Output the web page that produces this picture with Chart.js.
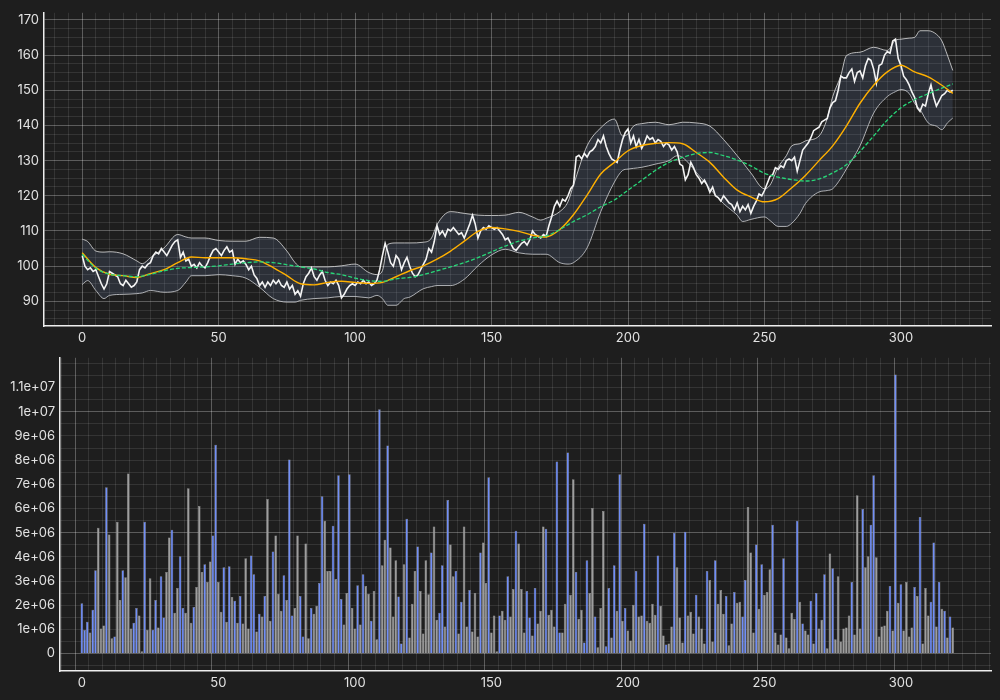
<!DOCTYPE html>
<html>
<head>
<meta charset="utf-8">
<script src="https://cdn.jsdelivr.net/npm/chart.js@4.4.1/dist/chart.umd.min.js"></script>
<style>
  html, body { margin: 0; padding: 0; background: #1e1e1e; }
  #wrap { position: relative; width: 1000px; height: 700px; }
  canvas { position: absolute; left: 0; }
  #priceChart { top: 0; }
  #volumeChart { top: 345px; }
</style>
</head>
<body>
<div id="wrap">
  <canvas id="priceChart" width="1000" height="345"></canvas>
  <canvas id="volumeChart" width="1000" height="355"></canvas>
</div>
<script>
// closing price per day (index 0..319)
var price = [
  103, 100, 99, 99.5, 98.5, 99, 97, 95, 93.5, 95,
  98.5, 98, 97.5, 97, 95, 94.5, 96, 95, 94, 94.5,
  95.5, 99, 100, 99.5, 100.5, 101, 103, 104, 103.5, 105,
  104, 103, 104.5, 106, 107, 107.5, 102.5, 104, 101.5, 102,
  100, 100.5, 99.5, 101, 100, 99.5, 101, 103, 104.5, 105,
  104, 103, 104.5, 105.5, 104, 104.5, 100.5, 102, 101, 101.5,
  100.5, 99, 100, 97.5, 96.5, 94.5, 95.5, 94, 95.5, 94.5,
  96, 95, 96, 94.5, 94, 95.5, 93.5, 94.5, 92, 93,
  91.5, 95, 97, 98, 99.5, 97, 96, 97.5, 98.5, 96,
  94.5, 95.5, 95, 96, 94.5, 91, 92, 93.5, 94.5, 95,
  94.5, 95.5, 95, 96, 95, 95.5, 94.5, 95, 96, 99,
  103, 106.5, 104, 101, 100, 103, 102, 99, 101, 102.5,
  100, 98, 97, 97.5, 99, 100.5, 102, 105, 104, 107,
  111.5, 109, 110, 108.5, 110.5, 110, 111, 110, 109, 109.5,
  108, 110, 112, 114.5, 112, 108, 110, 111, 110.5, 111.5,
  111, 110.5, 111, 110, 109, 107.5, 108, 106.5, 105, 104.5,
  105.5, 106.5, 107, 106, 107.5, 110, 109, 108.5, 108, 109,
  108.5, 111.5, 114, 117, 118.5, 117, 119, 118.5, 120, 122,
  123, 131, 131.5, 130.5, 132, 131, 132.5, 133, 134, 136,
  135, 137, 134, 132, 130.5, 130, 129.5, 133, 136, 138,
  139, 135, 137, 134, 136, 133.5, 135, 137, 136, 136.5,
  135, 136, 135.5, 134, 135, 134.5, 133, 134, 132.5, 129,
  128.5, 124.5, 126, 129.5, 128, 126, 125, 123.5, 124.5, 123,
  121, 122.5, 120, 119.5, 118.5, 120, 119, 118, 117.5, 116,
  118, 115.5, 117, 116, 117.5, 115, 117, 118.5, 120.5, 120,
  121.5, 123.5, 125.5, 126, 128, 127.5, 128.5, 128, 130, 130.5,
  130, 131, 127, 130, 133, 134, 135, 136.5, 138.5, 139,
  139.5, 141, 141.5, 142, 145, 146.5, 147, 150, 154, 153.5,
  153.5, 155, 156, 152.5, 155, 155.5, 153.5, 157, 159, 158.5,
  156, 152, 157, 157.5, 160, 161, 160.5, 164, 164.5, 159,
  157, 154, 153, 151.5, 149.5, 148, 145, 144, 146, 145.5,
  149, 151.5, 148, 145.5, 147, 148.5, 149, 150, 149.5, 150
];

// bollinger band readings
var bandX = [0, 2, 5, 8, 10, 15, 20, 22, 25, 30, 35, 38, 40, 45, 50, 55, 60, 65, 70, 75, 78,
  80, 85, 90, 95, 100, 105, 108, 110, 112, 115, 118, 120, 125, 128, 130, 135, 140, 145, 150,
  155, 160, 165, 168, 170, 175, 178, 180, 185, 190, 195, 198, 200, 202, 205, 210, 215, 218,
  220, 225, 230, 235, 240, 242, 245, 250, 252, 255, 258, 260, 263, 265, 270, 273, 275, 278,
  280, 285, 290, 295, 298, 300, 303, 305, 307, 310, 313, 315, 317, 319];
var upperBand = [107.7, 107, 104.3, 104, 104.1, 103.5, 101.5, 100.7, 102.4, 105.2, 109, 108.3, 108, 108, 107.3, 107.1, 107.1, 108.2, 108, 104.3, 101,
  99.8, 99.8, 99.8, 100.1, 100.6, 98.2, 97.6, 98.7, 106.2, 106.6, 106.6, 106.6, 106.8, 108, 111.8, 115.5, 115, 114.5, 114.4,
  114.5, 115.3, 114, 113.1, 113.6, 115.5, 118.3, 123, 134.2, 139.3, 141.8, 137, 137.6, 139.8, 140.5, 140.9, 140.2, 140.6,
  140.9, 140.7, 139.8, 136, 131.4, 129.5, 126.5, 122, 123, 128.1, 131.4, 134.2, 134.8, 135.6, 137, 142, 148.2, 154.2,
  159.8, 160.8, 162.2, 161.3, 164.2, 164.5, 164.8, 165, 166.9, 166.9, 165.9, 164, 160, 155.6];
var lowerBand = [94.8, 95.9, 93.1, 90.8, 91.7, 92, 92.2, 92.4, 93.1, 92.6, 93.1, 95.5, 97.3, 97.3, 97.6, 97.3, 96.6, 94, 90.8, 89.8, 89.8,
  90.3, 90.8, 91, 91.4, 91.4, 91, 91.7, 90.8, 88.9, 88.9, 90.8, 91.2, 93.6, 94.2, 94.5, 94.5, 96.3, 100.1, 103.2,
  104.8, 103.8, 103.4, 103.4, 103.4, 101, 100.6, 101, 105.2, 115.5, 123.9, 127.2, 127.6, 127.8, 128.1, 129, 130, 131.4,
  130.9, 126.7, 122, 117.8, 114.5, 112.7, 113.3, 114, 113, 111.3, 111.3, 112.2, 115, 117.8, 121.1, 121.5, 122, 125,
  127.6, 134.2, 143.5, 148.2, 149.6, 150.2, 149.1, 146.3, 144.5, 140.7, 139.8, 138.8, 140.7, 142.1];

// moving averages
var maX = [0, 5, 10, 15, 20, 25, 30, 35, 40, 45, 50, 55, 60, 65, 70, 75, 80, 85, 90, 95, 100,
  105, 110, 115, 120, 125, 130, 135, 140, 145, 150, 155, 160, 165, 170, 175, 180, 185, 190, 195, 200,
  205, 210, 215, 220, 225, 230, 235, 240, 245, 250, 255, 260, 265, 270, 275, 280, 285, 290, 295, 300,
  305, 310, 315, 319];
var maFast = [103.8, 99.6, 97.7, 97.3, 96.8, 97.9, 99, 101, 102.6, 102.4, 102.4, 102.4, 102.1, 101.5, 99.6, 97.3, 95, 94.7, 95.4, 95.7, 95.4,
  95.1, 95.4, 97, 98.7, 100.1, 102, 104.3, 107.1, 109.9, 111, 110.6, 109.9, 108.8, 108.3, 110.4, 114.6, 120.2, 126.2, 129.5, 132.8,
  134.3, 134.9, 135.1, 134.8, 132.3, 129.5, 125.3, 121.6, 119.7, 118.3, 119.2, 122.3, 125.8, 130, 134.2, 139.8, 146.3, 151.4, 155.2, 157.1,
  155.2, 153.8, 151.4, 149.1];
var maSlow = [103.4, 99.4, 97.7, 97.3, 97, 97.7, 98.7, 99.4, 99.6, 99.8, 100.1, 100.6, 101, 101.2, 101, 100.4, 99.8, 99.2, 98.2, 97.6, 96.6,
  95.9, 95.7, 96.4, 96.8, 97.6, 98.7, 99.8, 101, 102.4, 104.1, 105.7, 107.1, 108, 108.6, 110.4, 112.7, 114.6, 116.9, 118.8, 121.6,
  124.4, 127.2, 129.5, 130.9, 132, 132.3, 131.4, 130.2, 128.5, 126.4, 125.3, 124.6, 124.2, 124.8, 126.5, 128.8, 132.6, 137, 141.5, 145,
  147.3, 149, 150.6, 151.8];

// volume in millions, and whether the day closed up (1) or down (0)
var volumeM = [
  2.08, 0.98, 1.32, 0.87, 1.81, 3.45, 5.20, 1.04, 1.16, 6.88,
  4.92, 0.63, 0.71, 5.45, 2.22, 3.45, 3.16, 7.45, 1.04, 1.28,
  1.89, 1.57, 0.10, 5.45, 0.99, 3.12, 0.99, 2.22, 1.08, 3.20,
  1.49, 3.37, 4.80, 5.12, 1.69, 2.71, 4.02, 1.89, 1.69, 6.84,
  1.28, 1.93, 2.75, 6.10, 3.37, 3.69, 2.96, 3.81, 4.88, 8.64,
  2.96, 1.73, 3.57, 1.32, 3.61, 2.34, 2.18, 1.28, 2.38, 1.24,
  3.94, 1.04, 4.06, 3.28, 0.91, 1.65, 1.53, 2.38, 6.39, 1.36,
  4.22, 4.88, 2.47, 1.77, 3.24, 2.22, 8.02, 1.57, 1.89, 4.88,
  2.38, 0.71, 4.55, 0.63, 1.89, 1.65, 1.98, 2.92, 6.51, 5.49,
  3.41, 3.41, 5.29, 3.08, 7.37, 2.26, 1.20, 2.51, 7.41, 1.89,
  1.04, 2.83, 1.20, 3.28, 2.79, 2.47, 1.36, 2.59, 0.59, 10.10,
  3.65, 4.71, 8.60, 4.39, 1.53, 3.86, 2.36, 0.42, 3.69, 5.57,
  0.67, 2.06, 3.41, 4.43, 2.59, 0.83, 3.86, 2.45, 4.18, 5.25,
  1.40, 1.69, 3.65, 1.12, 6.35, 4.51, 3.20, 3.41, 0.83, 2.14,
  5.25, 1.12, 2.63, 0.91, 2.51, 0.71, 4.18, 4.59, 2.92, 7.29,
  0.87, 1.57, 0.10, 1.57, 1.77, 1.40, 3.20, 1.53, 2.67, 5.08,
  4.55, 2.67, 0.87, 2.59, 1.49, 0.75, 2.71, 1.24, 1.77, 5.25,
  5.16, 1.61, 1.81, 1.12, 7.94, 0.87, 0.87, 2.06, 8.31, 2.43,
  7.21, 3.37, 1.44, 1.81, 0.46, 3.86, 2.51, 6.02, 1.53, 0.26,
  1.89, 5.90, 0.30, 2.71, 0.67, 3.65, 1.77, 7.41, 1.36, 1.89,
  0.95, 0.54, 2.02, 3.41, 1.53, 1.57, 5.37, 1.36, 1.28, 2.06,
  1.61, 4.06, 1.98, 0.75, 0.38, 0.42, 1.12, 5.00, 3.57, 1.49,
  0.46, 5.04, 1.57, 1.73, 0.83, 2.43, 1.53, 1.04, 0.42, 3.41,
  3.04, 0.50, 3.86, 2.06, 2.63, 1.65, 2.38, 0.34, 1.24, 2.55,
  2.10, 2.14, 1.53, 3.04, 6.06, 4.18, 0.87, 4.51, 1.85, 3.69,
  2.43, 2.55, 3.49, 5.33, 0.87, 0.38, 0.79, 3.94, 0.67, 0.22,
  1.69, 1.44, 5.49, 2.14, 1.24, 0.95, 0.79, 2.18, 0.42, 2.51,
  1.04, 1.40, 3.28, 0.22, 4.14, 3.53, 0.59, 3.20, 0.50, 1.04,
  1.08, 1.57, 2.96, 0.79, 6.55, 1.04, 5.98, 3.57, 4.02, 5.33,
  7.37, 3.98, 0.71, 1.12, 1.16, 1.77, 2.79, 0.95, 11.54, 2.10,
  2.87, 0.95, 2.96, 0.71, 1.08, 2.75, 2.38, 5.65, 0.42, 2.71,
  1.57, 2.14, 4.59, 1.12, 2.96, 1.85, 1.77, 0.67, 1.53, 1.08
];
var volUp = [
  1,1,1,0,1,1,0,0,0,1, 0,0,1,0,0,1,0,0,0,1, 1,0,0,1,0,0,1,1,0,1, 1,0,0,1,0,0,1,1,0,0,
  0,1,0,0,0,1,0,0,1,1, 0,0,1,0,1,0,1,0,1,0, 0,0,1,1,0,1,0,1,0,0, 1,0,0,0,1,0,1,1,0,0,
  1,1,0,0,1,0,0,1,1,0, 0,0,1,0,1,1,0,0,1,0, 0,1,0,1,0,0,1,0,0,1, 0,0,1,0,0,0,1,1,0,1,
  0,0,0,1,0,0,0,0,1,0, 0,1,1,0,1,0,0,1,0,1, 0,0,1,0,0,0,1,0,0,1, 0,0,0,1,0,0,1,0,0,1,
  0,0,0,1,1,0,1,0,0,0, 1,0,0,0,1,1,0,0,1,0, 0,1,0,0,1,1,0,0,1,0, 0,0,1,1,0,1,0,1,0,1,
  0,0,0,1,0,0,1,0,0,0, 0,1,0,0,1,0,0,1,0,0, 0,1,0,0,0,1,0,0,0,1, 0,0,1,0,0,0,1,0,0,1,
  0,0,1,1,0,0,0,1,0,1, 0,0,0,1,0,0,0,1,0,0, 0,0,1,0,1,0,0,1,0,1, 0,0,1,0,0,1,0,0,0,0,
  0,0,1,0,0,0,1,0,0,1, 1,0,0,0,0,0,1,0,1,0, 1,0,0,0,0,1,0,1,0,0, 0,1,1,0,1,0,1,0,1,0
];

var xLabels = [0, 50, 100, 150, 200, 250, 300];
var priceLabels = [90, 100, 110, 120, 130, 140, 150, 160, 170];
var volumeLabels = [0, 1e6, 2e6, 3e6, 4e6, 5e6, 6e6, 7e6, 8e6, 9e6, 1e7, 1.1e7];

Chart.defaults.font.family = 'Inter';
Chart.defaults.font.size = 13;
Chart.defaults.color = '#e2e2e2';

var GRID_MAJOR = 'rgba(255,255,255,0.28)';
var GRID_MINOR = 'rgba(255,255,255,0.10)';

function steps(from, to, step) {
  var out = [];
  for (var v = from; v <= to + 1e-9; v += step) out.push(Math.round(v * 100) / 100);
  return out;
}
function setTicks(values) {
  return function (scale) { scale.ticks = values.map(function (v) { return { value: v }; }); };
}
function sci(v) {
  if (v === 0) return '0';
  var parts = v.toExponential().split('e');
  var e = parts[1];
  return parts[0] + 'e' + e[0] + e.slice(1).padStart(2, '0');
}
function xy(xs, ys) {
  return xs.map(function (x, i) { return { x: x, y: ys[i] }; });
}

var xGridTicks = steps(-10, 330, 5);

function xScale(min, height) {
  return {
    type: 'linear', min: min, max: 333, offset: false,
    afterBuildTicks: setTicks(xGridTicks),
    afterFit: function (s) { s.height = height; },
    grid: {
      drawTicks: false,
      color: function (c) { return c.tick && c.tick.value % 50 === 0 ? GRID_MAJOR : GRID_MINOR; }
    },
    border: { color: '#eeeeee', width: 1.5 },
    ticks: {
      autoSkip: false, maxRotation: 0, padding: 4,
      callback: function (v) { return xLabels.indexOf(v) >= 0 ? String(v) : ''; }
    }
  };
}

var days = price.map(function (_, i) { return i; });

new Chart(document.getElementById('priceChart'), {
  type: 'line',
  data: {
    datasets: [
      {
        label: 'MA slow', data: xy(maX, maSlow),
        borderColor: 'rgb(40,215,120)', borderWidth: 1.3, borderDash: [4, 2],
        pointRadius: 0, cubicInterpolationMode: 'monotone', fill: false
      },
      {
        label: 'MA fast', data: xy(maX, maFast),
        borderColor: 'rgb(255,176,0)', borderWidth: 1.4,
        pointRadius: 0, cubicInterpolationMode: 'monotone', fill: false
      },
      {
        label: 'Price', data: xy(days, price),
        borderColor: '#f4f4f4', borderWidth: 1.6,
        pointRadius: 0, tension: 0, fill: false
      },
      {
        label: 'Upper', data: xy(bandX, upperBand),
        borderColor: 'rgba(220,220,220,0.9)', borderWidth: 0.9,
        pointRadius: 0, cubicInterpolationMode: 'monotone',
        fill: '+1', backgroundColor: 'rgba(95,115,150,0.22)'
      },
      {
        label: 'Lower', data: xy(bandX, lowerBand),
        borderColor: 'rgba(220,220,220,0.9)', borderWidth: 0.9,
        pointRadius: 0, cubicInterpolationMode: 'monotone', fill: false
      }
    ]
  },
  options: {
    responsive: false,
    animation: false,
    layout: { padding: { top: 9, right: 9, left: 0, bottom: 0 } },
    plugins: { legend: { display: false }, tooltip: { enabled: false } },
    scales: {
      x: xScale(-14, 19),
      y: {
        min: 83, max: 172,
        afterBuildTicks: setTicks(steps(85, 170, 2.5)),
        afterFit: function (s) { s.width = 44; },
        grid: {
          drawTicks: false,
          color: function (c) { return c.tick && c.tick.value % 10 === 0 ? GRID_MAJOR : GRID_MINOR; }
        },
        border: { color: '#eeeeee', width: 1.5 },
        ticks: {
          autoSkip: false, padding: 5,
          callback: function (v) { return priceLabels.indexOf(v) >= 0 ? String(v) : ''; }
        }
      }
    }
  }
});

new Chart(document.getElementById('volumeChart'), {
  type: 'bar',
  data: {
    datasets: [{
      label: 'Volume',
      data: xy(days, volumeM.map(function (v) { return v * 1e6; })),
      backgroundColor: volUp.map(function (u) { return u ? 'rgb(112,142,248)' : 'rgb(158,158,158)'; }),
      borderColor: 'rgb(158,158,158)',
      borderWidth: 0.5,
      barPercentage: 0.95,
      categoryPercentage: 1
    }]
  },
  options: {
    responsive: false,
    animation: false,
    layout: { padding: { top: 9, right: 9, left: 0, bottom: 0 } },
    plugins: { legend: { display: false }, tooltip: { enabled: false } },
    scales: {
      x: xScale(-8, 29),
      y: {
        min: -720000, max: 12230000,
        afterBuildTicks: setTicks(steps(-500000, 12000000, 500000)),
        afterFit: function (s) { s.width = 60; },
        grid: {
          drawTicks: false,
          color: function (c) { return c.tick && c.tick.value % 5000000 === 0 ? GRID_MAJOR : GRID_MINOR; }
        },
        border: { color: '#eeeeee', width: 1.5 },
        ticks: {
          autoSkip: false, padding: 5,
          callback: function (v) { return volumeLabels.indexOf(v) >= 0 ? sci(v) : ''; }
        }
      }
    }
  }
});
</script>
</body>
</html>
